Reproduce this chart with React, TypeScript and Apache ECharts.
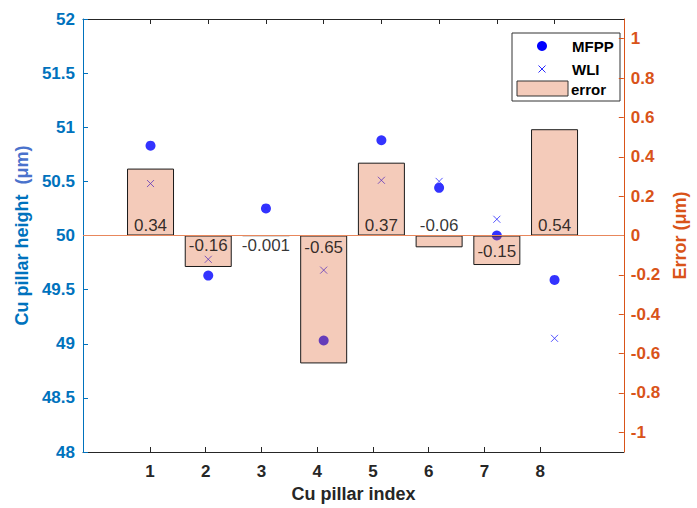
import React, { useEffect, useRef } from 'react';
import * as echarts from 'echarts';

const pillarIndex = [1, 2, 3, 4, 5, 6, 7, 8];
const mfppHeights = [50.83, 49.63, 50.25, 49.03, 50.88, 50.44, 50.0, 49.59];
const wliHeights = [50.48, 49.78, 50.25, 49.68, 50.51, 50.5, 50.15, 49.05];
const errorValues = [0.34, -0.16, -0.001, -0.65, 0.37, -0.06, -0.15, 0.54];
const errorLabels = ['0.34', '-0.16', '-0.001', '-0.65', '0.37', '-0.06', '-0.15', '0.54'];
const xTickValues = [1, 2, 3, 4, 5, 6, 7, 8];
const rightTickValues = [-1, -0.8, -0.6, -0.4, -0.2, 0, 0.2, 0.4, 0.6, 0.8, 1];
const seriesNames = ['MFPP', 'WLI', 'error'];

const FONT = 'Arial, "Liberation Sans", Helvetica, sans-serif';
const BLUE = '#0072BD';
const ORANGE = '#D95319';
const DARK = '#262626';
const BAR_FILL = 'rgba(217,83,25,0.3)';
const ZERO_LINE = '#E8875C';
const DATA_X_MIN = -0.17;
const DATA_X_MAX = 9.2;

export default function App() {
  const ref = useRef<HTMLDivElement>(null);

  useEffect(() => {
    document.body.style.margin = '0';
    if (!ref.current) return;
    const chart = echarts.init(ref.current, null, { renderer: 'svg' });

    const labelOffsets = [-10, 10, 10, 12, -10, -10, 16, -10];

    const option: any = {
      animation: false,
      backgroundColor: '#ffffff',
      grid: { left: 83, right: 63, top: 19, bottom: 53, containLabel: false },
      xAxis: [
        {
          type: 'value',
          position: 'bottom',
          min: -0.2,
          max: 9.5,
          name: 'Cu pillar index',
          nameLocation: 'middle',
          nameGap: 33,
          nameTextStyle: { color: DARK, fontSize: 18, fontWeight: 'bold', fontFamily: FONT },
          axisLine: { show: true, onZero: false, lineStyle: { color: DARK, width: 1 } },
          axisTick: { show: true, inside: true, length: 5, customValues: xTickValues, lineStyle: { color: DARK } },
          axisLabel: {
            show: true,
            customValues: xTickValues,
            color: DARK,
            fontSize: 17,
            fontWeight: 'bold',
            fontFamily: FONT,
            margin: 11,
          },
          splitLine: { show: false },
        },
        {
          type: 'value',
          position: 'top',
          min: DATA_X_MIN,
          max: DATA_X_MAX,
          axisLine: { show: true, onZero: false, lineStyle: { color: DARK, width: 1 } },
          axisTick: { show: true, inside: true, length: 5, customValues: xTickValues, lineStyle: { color: DARK } },
          axisLabel: { show: false, customValues: xTickValues },
          splitLine: { show: false },
        },
      ],
      yAxis: [
        {
          type: 'value',
          position: 'left',
          min: 48,
          max: 52,
          interval: 0.5,
          name: 'Cu pillar height  {u|(μm)}',
          nameLocation: 'middle',
          nameRotate: 90,
          nameGap: 50,
          nameTextStyle: {
            color: BLUE,
            fontSize: 18,
            fontWeight: 'bold',
            fontFamily: FONT,
            rich: { u: { color: '#4a72cc', fontSize: 18, fontWeight: 'bold', fontFamily: FONT } },
          },
          axisLine: { show: true, onZero: false, lineStyle: { color: BLUE, width: 1 } },
          axisTick: { show: true, inside: true, length: 5, lineStyle: { color: BLUE } },
          axisLabel: { color: BLUE, fontSize: 17, fontWeight: 'bold', fontFamily: FONT, margin: 8 },
          splitLine: { show: false },
        },
        {
          type: 'value',
          position: 'right',
          min: -1.1,
          max: 1.1,
          name: 'Error (μm)',
          nameLocation: 'middle',
          nameRotate: 90,
          nameGap: 46,
          nameTextStyle: { color: ORANGE, fontSize: 18, fontWeight: 'bold', fontFamily: FONT },
          axisLine: { show: true, onZero: false, lineStyle: { color: ORANGE, width: 1 } },
          axisTick: { show: true, inside: true, length: 5, customValues: rightTickValues, lineStyle: { color: ORANGE } },
          axisLabel: {
            customValues: rightTickValues,
            color: ORANGE,
            fontSize: 17,
            fontWeight: 'bold',
            fontFamily: FONT,
            margin: 7,
            formatter: (v: number) => String(Math.round(v * 10) / 10),
          },
          splitLine: { show: false },
        },
      ],
      series: [
        {
          name: seriesNames[0],
          type: 'scatter',
          xAxisIndex: 1,
          yAxisIndex: 0,
          z: 2,
          symbol: 'circle',
          symbolSize: 10,
          itemStyle: { color: '#0000ff' },
          data: pillarIndex.map((x, i) => [x, mfppHeights[i]]),
        },
        {
          name: seriesNames[1],
          type: 'scatter',
          xAxisIndex: 1,
          yAxisIndex: 0,
          z: 2,
          symbol: 'path://M0,0L10,10M10,0L0,10',
          symbolSize: 7,
          itemStyle: { color: 'none', borderColor: '#2a2aff', borderWidth: 1 },
          data: pillarIndex.map((x, i) => [x, wliHeights[i]]),
        },
        {
          name: seriesNames[2],
          type: 'bar',
          xAxisIndex: 1,
          yAxisIndex: 1,
          z: 3,
          barWidth: 47,
          itemStyle: { color: BAR_FILL, borderColor: '#1a1a1a', borderWidth: 1 },
          data: pillarIndex.map((x, i) => [x, errorValues[i]]),
        },
        {
          name: 'zero',
          type: 'line',
          xAxisIndex: 1,
          yAxisIndex: 1,
          z: 4,
          silent: true,
          symbol: 'none',
          lineStyle: { color: ZERO_LINE, width: 1 },
          data: [
            [DATA_X_MIN, 0],
            [DATA_X_MAX, 0],
          ],
        },
        {
          name: 'labels',
          type: 'scatter',
          xAxisIndex: 1,
          yAxisIndex: 1,
          z: 5,
          symbolSize: 1,
          itemStyle: { color: 'rgba(0,0,0,0)' },
          silent: true,
          data: pillarIndex.map((x, i) => ({
            value: [x, 0],
            label: {
              show: true,
              position: 'inside',
              formatter: errorLabels[i],
              offset: [0, labelOffsets[i]],
              color: '#000',
              fontSize: 17,
              fontFamily: FONT,
            },
          })),
        },
      ],
      graphic: [
        {
          type: 'group',
          z: 100,
          children: [
            { type: 'rect', shape: { x: 512, y: 33, width: 108, height: 68 }, style: { fill: '#fff', stroke: '#333', lineWidth: 1 } },
            { type: 'circle', shape: { cx: 542, cy: 46, r: 5 }, style: { fill: '#0000ff' } },
            { type: 'line', shape: { x1: 538.5, y1: 65.5, x2: 545.5, y2: 72.5 }, style: { stroke: '#2a2aff', lineWidth: 1 } },
            { type: 'line', shape: { x1: 545.5, y1: 65.5, x2: 538.5, y2: 72.5 }, style: { stroke: '#2a2aff', lineWidth: 1 } },
            { type: 'rect', shape: { x: 517, y: 81, width: 51, height: 15 }, style: { fill: BAR_FILL, stroke: '#333', lineWidth: 1 } },
            { type: 'text', x: 572, y: 46, style: { text: seriesNames[0], fill: '#000', font: `bold 15px ${FONT}`, verticalAlign: 'middle' } },
            { type: 'text', x: 572, y: 69, style: { text: seriesNames[1], fill: '#000', font: `bold 15px ${FONT}`, verticalAlign: 'middle' } },
            { type: 'text', x: 571, y: 89, style: { text: seriesNames[2], fill: '#000', font: `bold 15px ${FONT}`, verticalAlign: 'middle' } },
          ],
        },
      ],
    };

    chart.setOption(option);
    return () => chart.dispose();
  }, []);

  return <div ref={ref} style={{ width: 697, height: 508 }} />;
}
